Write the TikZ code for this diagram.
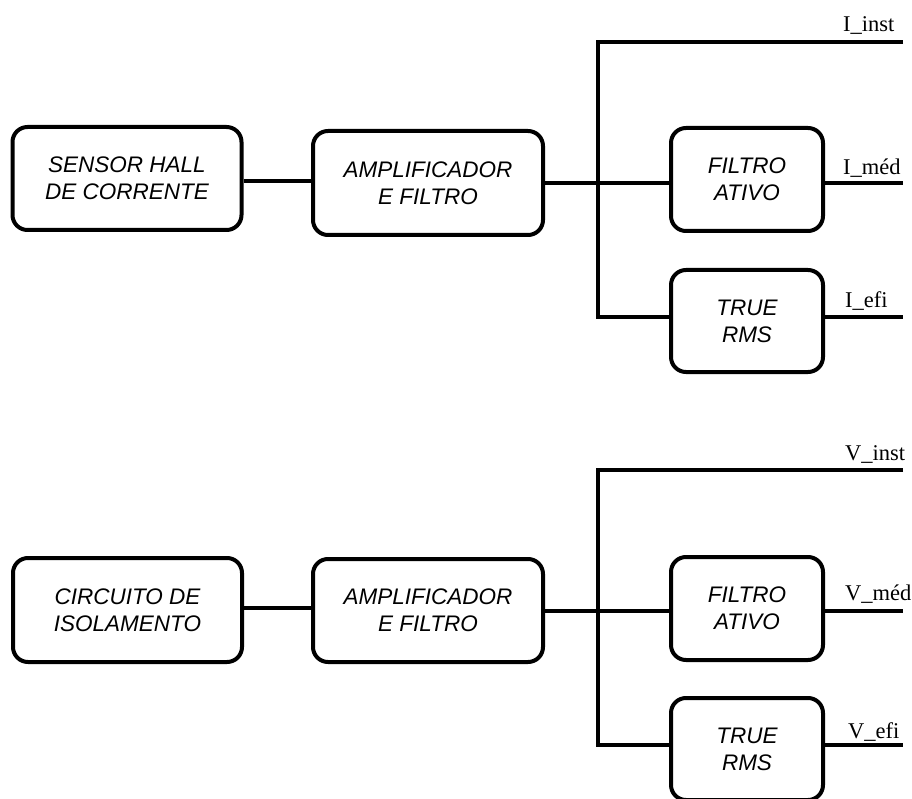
\documentclass[tikz,border=0pt]{standalone}
\usepackage{fontspec}
\setmainfont{Liberation Serif}
\setsansfont{Liberation Sans}
\begin{document}
\begin{tikzpicture}[x=1pt,y=-1pt,
  blk/.style={draw, line width=4pt, rounded corners=15pt, align=center, inner sep=0pt,
    font=\sffamily\itshape\fontsize{22.5}{27}\selectfont},
  wire/.style={line width=3.4pt},
  lbl/.style={font=\fontsize{22.5}{24}\selectfont, anchor=base west, inner sep=0pt}]
\useasboundingbox (0,0) rectangle (912,799);
% ---------- top chain ----------
\node[blk, minimum width=229pt, minimum height=103pt] (s1) at (127,178.5) {SENSOR HALL\\DE CORRENTE};
\node[blk, minimum width=230pt, minimum height=104pt] (a1) at (428,183) {AMPLIFICADOR\\E FILTRO};
\node[blk, minimum width=152pt, minimum height=103pt] (f1) at (747,179.5) {FILTRO\\ATIVO};
\node[blk, minimum width=152pt, minimum height=102pt] (r1) at (747,321) {TRUE\\RMS};
\coordinate (j1) at (598,183);
\coordinate (t1) at (598,42);
\coordinate (b1) at (598,317);
\coordinate (o1a) at (903,42);
\coordinate (o1b) at (903,183);
\coordinate (o1c) at (903,317);
\draw[wire] (s1.east |- 0,181) -- (a1.west |- 0,181);
\draw[wire] (a1.east |- j1) -- (f1.west |- j1);
\draw[wire] (o1a) -- (t1) -- (b1) -- (r1.west |- b1);
\draw[wire] (f1.east |- o1b) -- (o1b);
\draw[wire] (r1.east |- o1c) -- (o1c);
\node[lbl] (l1a) at (843,32) {I\_inst};
\node[lbl] (l1b) at (843,175) {I\_méd};
\node[lbl] (l1c) at (845,308) {I\_efi};
% ---------- bottom chain ----------
\node[blk, minimum width=229pt, minimum height=104pt] (s2) at (127.5,610) {CIRCUITO DE\\ISOLAMENTO};
\node[blk, minimum width=230pt, minimum height=103pt] (a2) at (428,610.5) {AMPLIFICADOR\\E FILTRO};
\node[blk, minimum width=152pt, minimum height=103pt] (f2) at (747,608.5) {FILTRO\\ATIVO};
\node[blk, minimum width=152pt, minimum height=102pt] (r2) at (747,749) {TRUE\\RMS};
\coordinate (j2) at (598,611);
\coordinate (t2) at (598,470);
\coordinate (b2) at (598,745);
\coordinate (o2a) at (903,470);
\coordinate (o2b) at (903,611);
\coordinate (o2c) at (903,745);
\draw[wire] (s2.east |- 0,608) -- (a2.west |- 0,608);
\draw[wire] (a2.east |- j2) -- (f2.west |- j2);
\draw[wire] (o2a) -- (t2) -- (b2) -- (r2.west |- b2);
\draw[wire] (f2.east |- o2b) -- (o2b);
\draw[wire] (r2.east |- o2c) -- (o2c);
\node[lbl] (l2a) at (845,460) {V\_inst};
\node[lbl] (l2b) at (845,600) {V\_méd};
\node[lbl] (l2c) at (848,738) {V\_efi};
\end{tikzpicture}
\end{document}
